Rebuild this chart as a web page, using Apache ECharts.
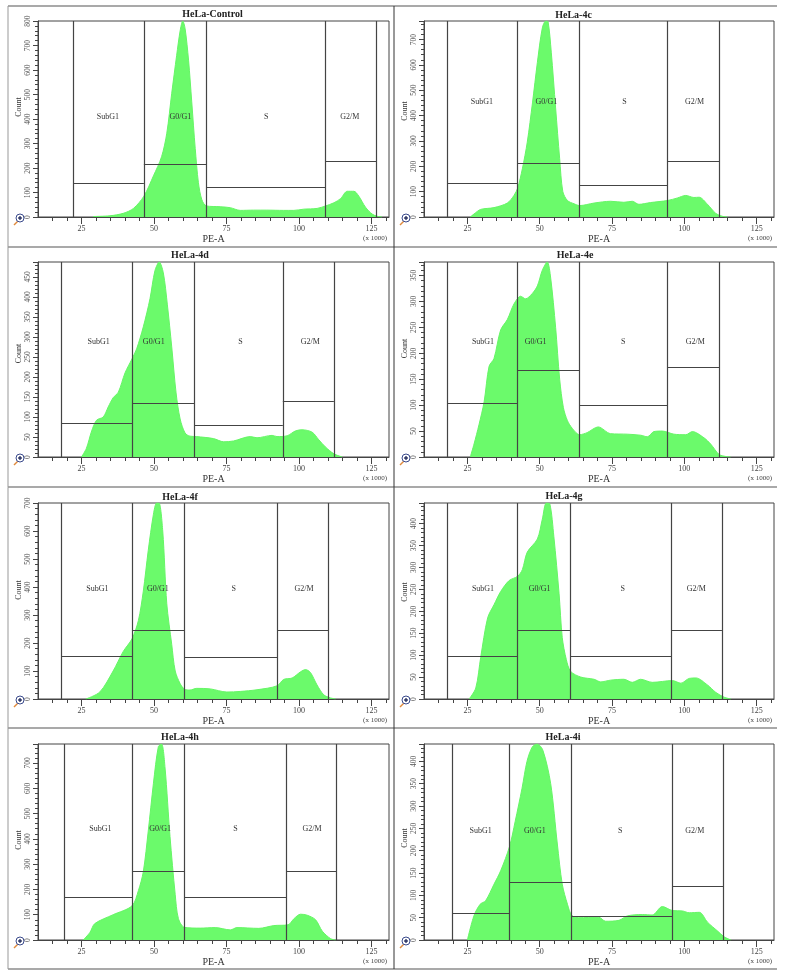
<!DOCTYPE html>
<html lang="en">
<head>
    <meta charset="UTF-8">
    <title>HeLa cell cycle histograms</title>
    <style>
        html,body{margin:0;padding:0;background:#fff;}
        #box{width:788px;height:976px;}
    </style>
</head>
<body>
<div id="box"></div>
<script src="https://cdn.jsdelivr.net/npm/echarts@6/dist/echarts.min.js" type="text/javascript"></script>
<script type="text/javascript">
    // PE-A (x 1000) and count
    let controlX=[29,34.8,39.4,42.9,46.5,49.8,52.6,54.4,56.1,57.8,59,59.9,60.7,61.9,63,64.2,65.3,66.5,68.1,72.8,76.3,79.7,84.3,88.9,94.7,98.2,101.6,106.2,109.1,112,114.3,116.6,118.9,120.6,122.9,125.2,126.9,128.6];
    let controlY=[2,5,15,35,85,168,246,342,505,660,760,800,770,640,470,280,140,70,45,42,38,27,28,28,27,27,32,35,45,58,75,105,105,85,40,12,3,0];
    let h4cX=[26,27.3,29.6,34.2,38.8,41.1,42.4,44,45.7,47.5,49.2,50.9,52.1,52.9,54,55.5,56.9,58,59.6,61.9,63.8,68.8,74.5,79.1,82,84.3,88.3,94.2,97.6,100.5,103.3,105.1,108,110.8,113.1,114.9];
    let h4cY=[0,12,30,37,55,85,115,190,295,450,610,745,773,770,650,430,230,100,65,52,45,55,62,58,62,50,57,65,75,85,77,78,50,15,3,0];
    let h4dX=[25,26.7,28.5,30.2,32.5,34.2,35.9,37.7,40,42.4,44,46.3,48.6,50.3,51.8,53.2,54.6,56.1,57.6,59,60.7,62.4,64.7,70.5,74,77.4,83.2,85.5,90.7,92.4,95.9,98.7,101,104.5,106.8,109.1,112,114.9];
    let h4dY=[0,22,65,92,100,125,148,162,210,245,270,325,395,465,487,460,380,275,160,95,60,52,51,46,38,40,51,48,54,51,53,65,68,62,43,25,8,0];
    let h4eX=[26,27.3,29,30.8,32.5,34.2,36.5,38.8,41.1,43.4,45.1,47.4,49.2,50.9,52.6,53.8,55.5,56.9,58.2,59.6,61.3,63.8,66.4,70.2,74.5,80.3,84.9,87.2,89.5,92.4,96.4,100.5,102.8,106.8,109.1,112,114.3,116];
    let h4eY=[0,25,62,107,175,190,245,265,295,310,305,315,330,360,376,345,250,150,95,70,55,43,47,58,45,44,42,39,49,50,44,43,49,37,25,5,1,0];
    let h4fX=[26.5,31.3,35.9,39.4,42.4,44.6,46.3,48,49.8,50.9,51.7,53,54.4,56.1,57.3,59,60.5,62.4,64.7,69.4,75.1,79.7,85.5,92.4,94.7,97.6,100.5,102.2,103.9,106.2,108.5,110.8,112.6];
    let h4fY=[0,25,100,170,215,280,385,530,660,700,700,600,340,195,100,55,35,32,38,36,25,27,33,47,70,75,97,105,95,50,15,4,0];
    let h4gX=[25.6,27.9,29.6,32,34.2,36.5,39.4,42.4,44,45.7,49.2,50.9,52.3,53.5,54.9,56.7,57.8,59.2,60.7,64.2,68.8,71.1,74.5,79.1,82,84.9,88.9,95.9,98.8,101.7,104,108,110.9,113.8,116.1];
    let h4gY=[0,25,95,185,215,245,270,280,295,335,365,410,447,445,370,240,140,90,63,50,45,39,43,45,38,45,38,42,36,47,48,32,15,4,0];
    let h4hX=[25.6,27.9,29.6,35.9,42.4,44.6,46.3,48,49.8,51.5,52.6,53.8,55.5,57.3,58.4,60.5,65.9,71.1,76.3,78.6,86.1,91.3,96.2,98.3,100.5,102.8,105.7,108,110.9,112.6];
    let h4hY=[0,30,65,100,135,195,270,430,620,765,775,680,410,180,85,50,47,49,40,49,46,57,60,85,102,98,80,35,5,0];
    let h4iX=[25,27.3,29.4,31.3,34.2,36.5,39.6,41.5,43.9,45.6,47.4,49.1,51.1,53.8,56.1,57.8,59.6,61.1,63.5,70.4,72.8,77.4,80.3,85.5,88.9,92.4,95.9,99.4,101.7,105.2,108,111.5,113.8,116.1];
    let h4iY=[0,55,80,88,125,155,210,265,340,400,432,439,425,350,215,125,80,55,50,51,42,44,54,57,56,75,66,65,61,62,40,20,7,0];

    let titles=['HeLa-Control','HeLa-4c','HeLa-4d','HeLa-4e','HeLa-4f','HeLa-4g','HeLa-4h','HeLa-4i'];
    let curveX=[controlX,h4cX,h4dX,h4eX,h4fX,h4gX,h4hX,h4iX];
    let curveY=[controlY,h4cY,h4dY,h4eY,h4fY,h4gY,h4hY,h4iY];
    let countMax=[800,773,487,376,700,447,775,439];
    let countStep=[100,100,50,50,100,50,100,50];

    // gate edges on PE-A, and the height of each gate's bar
    let gateEdges=[
        [22.1,46.5,68.1,109.1,126.7],
        [18,42.4,63.8,94.2,112],
        [18,42.4,63.9,94.4,112],
        [18,42.4,63.8,94.2,112],
        [18,42.4,60.5,92.6,110.1],
        [18,42.4,60.5,95.5,113],
        [19.2,42.4,60.5,95.6,112.9],
        [19.9,39.6,60.9,95.9,113.5]
    ];
    let gateHeights=[
        [139,215,122,226],
        [133,213,127,218],
        [84,135,80,138],
        [104,167,99,173],
        [151,245,149,245],
        [97,157,97,157],
        [169,273,169,273],
        [59,129,53,121]
    ];
    let gateNames=['SubG1','G0/G1','S','G2/M'];
    let gateNameX=[
        [34.1,59.1,88.7,117.5],
        [30,52.3,79.3,103.5],
        [30.9,49.9,79.8,103.9],
        [30.4,48.6,78.9,103.8],
        [30.5,51.3,77.5,101.7],
        [30.4,50,78.7,104.1],
        [31.5,52.1,78.1,104.5],
        [29.6,48.3,77.8,103.6]
    ];
    let gateNameY=[407,455,288,222,392,252,438,244];

    let xMajor=[25,50,75,100,125];
    let xMinor=[];
    for(let v=15;v<=130;v+=5) xMinor.push(v);

    // layout
    let gridLeft=[38,424,38,424,38,424,38,424];
    let gridWidth=[351,350,351,350,351,350,351,350];
    let gridTop=[21,21,262,262,503,503,744,744];
    let gridBottom=[217,217,457,457,699,699,940,940];
    let titleX=[212.5,573.5,190,575,180,564,180,563];
    let titleY=[15,16.5,256,256.5,498,497,738,738];
    let countNameShift=[24,16,12,22,22,18,4,8];

    let fontName='"Liberation Serif"';
    let grids=[],xAxes=[],yAxes=[],series=[],titleList=[],graphics=[];

    titles.forEach((name,i)=>{
        let h=gridBottom[i]-gridTop[i];
        grids.push({left:gridLeft[i],top:gridTop[i],width:gridWidth[i],height:h,show:true,borderColor:'#444',borderWidth:1,backgroundColor:'#fff'});

        xAxes.push({
            gridIndex:i,type:'value',position:'bottom',min:10,max:131,interval:5,
            axisLine:{onZero:false,lineStyle:{color:'#444',width:1}},
            axisTick:{show:true,length:4,lineStyle:{color:'#444'},customValues:xMinor},
            splitLine:{show:false},
            axisLabel:{customValues:xMajor,fontFamily:fontName,fontSize:8,color:'#444',margin:8},
            name:'PE-A',nameLocation:'middle',nameGap:8,
            nameTextStyle:{fontFamily:fontName,fontSize:10,color:'#333'}
        });
        // longer ticks under the labelled values
        xAxes.push({
            gridIndex:i,type:'value',position:'bottom',min:10,max:131,interval:5,
            axisLine:{show:false,onZero:false},
            axisTick:{show:true,length:7,lineStyle:{color:'#444'},customValues:xMajor},
            splitLine:{show:false},
            axisLabel:{show:false}
        });

        let atTop=(countMax[i]%countStep[i]===0);
        yAxes.push({
            gridIndex:i,type:'value',min:0,max:countMax[i],interval:countStep[i],
            axisLine:{lineStyle:{color:'#444',width:1}},
            axisTick:{length:5,lineStyle:{color:'#444'}},
            minorTick:{show:true,splitNumber:5,length:3,lineStyle:{color:'#444'}},
            splitLine:{show:false},
            minorSplitLine:{show:false},
            axisLabel:{rotate:90,fontFamily:fontName,fontSize:7.5,color:'#555',margin:6,showMaxLabel:atTop},
            name:'Count',nameLocation:'middle',nameRotate:90,nameGap:15,
            nameTextStyle:{fontFamily:fontName,fontSize:8,color:'#333',padding:[0,0,0,countNameShift[i]]}
        });

        let lines=[];
        gateEdges[i].forEach(x=>lines.push({xAxis:x}));
        gateHeights[i].forEach((v,k)=>{
            lines.push([{coord:[gateEdges[i][k],v]},{coord:[gateEdges[i][k+1],v]}]);
        });

        series.push({
            name:name,type:'line',xAxisIndex:i*2,yAxisIndex:i,
            data:curveX[i].map((x,k)=>[x,curveY[i][k]]),
            smooth:0.3,symbol:'none',
            lineStyle:{color:'#66f566',width:1},
            areaStyle:{color:'#6bfa6b',opacity:1},
            markLine:{
                silent:true,symbol:'none',animation:false,
                label:{show:false},
                lineStyle:{color:'#444',width:1.2,type:'solid'},
                emphasis:{disabled:true},
                data:lines
            },
            markPoint:{
                silent:true,symbol:'circle',symbolSize:1,animation:false,
                itemStyle:{opacity:0},
                label:{show:true,position:'inside',fontFamily:fontName,fontSize:8,color:'#333',opacity:1,formatter:p=>p.name},
                data:gateNames.map((g,k)=>({name:g,coord:[gateNameX[i][k],gateNameY[i]]}))
            }
        });

        titleList.push({
            text:name,left:titleX[i],top:titleY[i]-6,textAlign:'center',padding:0,
            textStyle:{fontFamily:fontName,fontSize:10,fontWeight:'bold',color:'#222'}
        });
        titleList.push({
            text:'(x 1000)',left:gridLeft[i]+gridWidth[i]-14,top:gridBottom[i]+18,textAlign:'center',padding:0,
            textStyle:{fontFamily:fontName,fontSize:7,fontWeight:'normal',color:'#444'}
        });

        // zoom icon at the corner of each plot
        let cx=gridLeft[i]-18,cy=gridBottom[i]+1;
        graphics.push({type:'line',z:5,shape:{x1:cx-2,y1:cy+3,x2:cx-6,y2:cy+7},style:{stroke:'#e08a3c',lineWidth:1.5}});
        graphics.push({type:'circle',z:6,shape:{cx:cx,cy:cy,r:4},style:{fill:'#fff',stroke:'#3a4a8c',lineWidth:1}});
        graphics.push({type:'line',z:7,shape:{x1:cx-2,y1:cy,x2:cx+2,y2:cy},style:{stroke:'#111c50',lineWidth:1.2}});
        graphics.push({type:'line',z:7,shape:{x1:cx,y1:cy-2,x2:cx,y2:cy+2},style:{stroke:'#111c50',lineWidth:1.2}});
    });

    // panel rules
    [6,247,487,728,969].forEach(y=>{
        graphics.push({type:'line',z:1,shape:{x1:8,y1:y,x2:777,y2:y},style:{stroke:'#555',lineWidth:1.2}});
    });
    graphics.push({type:'line',z:1,shape:{x1:8,y1:6,x2:8,y2:969},style:{stroke:'#999',lineWidth:1}});
    graphics.push({type:'line',z:1,shape:{x1:394,y1:6,x2:394,y2:969},style:{stroke:'#333',lineWidth:1}});

    let chart=echarts.init(document.getElementById('box'));
    chart.setOption({
        animation:false,
        backgroundColor:'#fff',
        title:titleList,
        grid:grids,
        xAxis:xAxes,
        yAxis:yAxes,
        series:series,
        graphic:graphics
    });
</script>
</body>
</html>
